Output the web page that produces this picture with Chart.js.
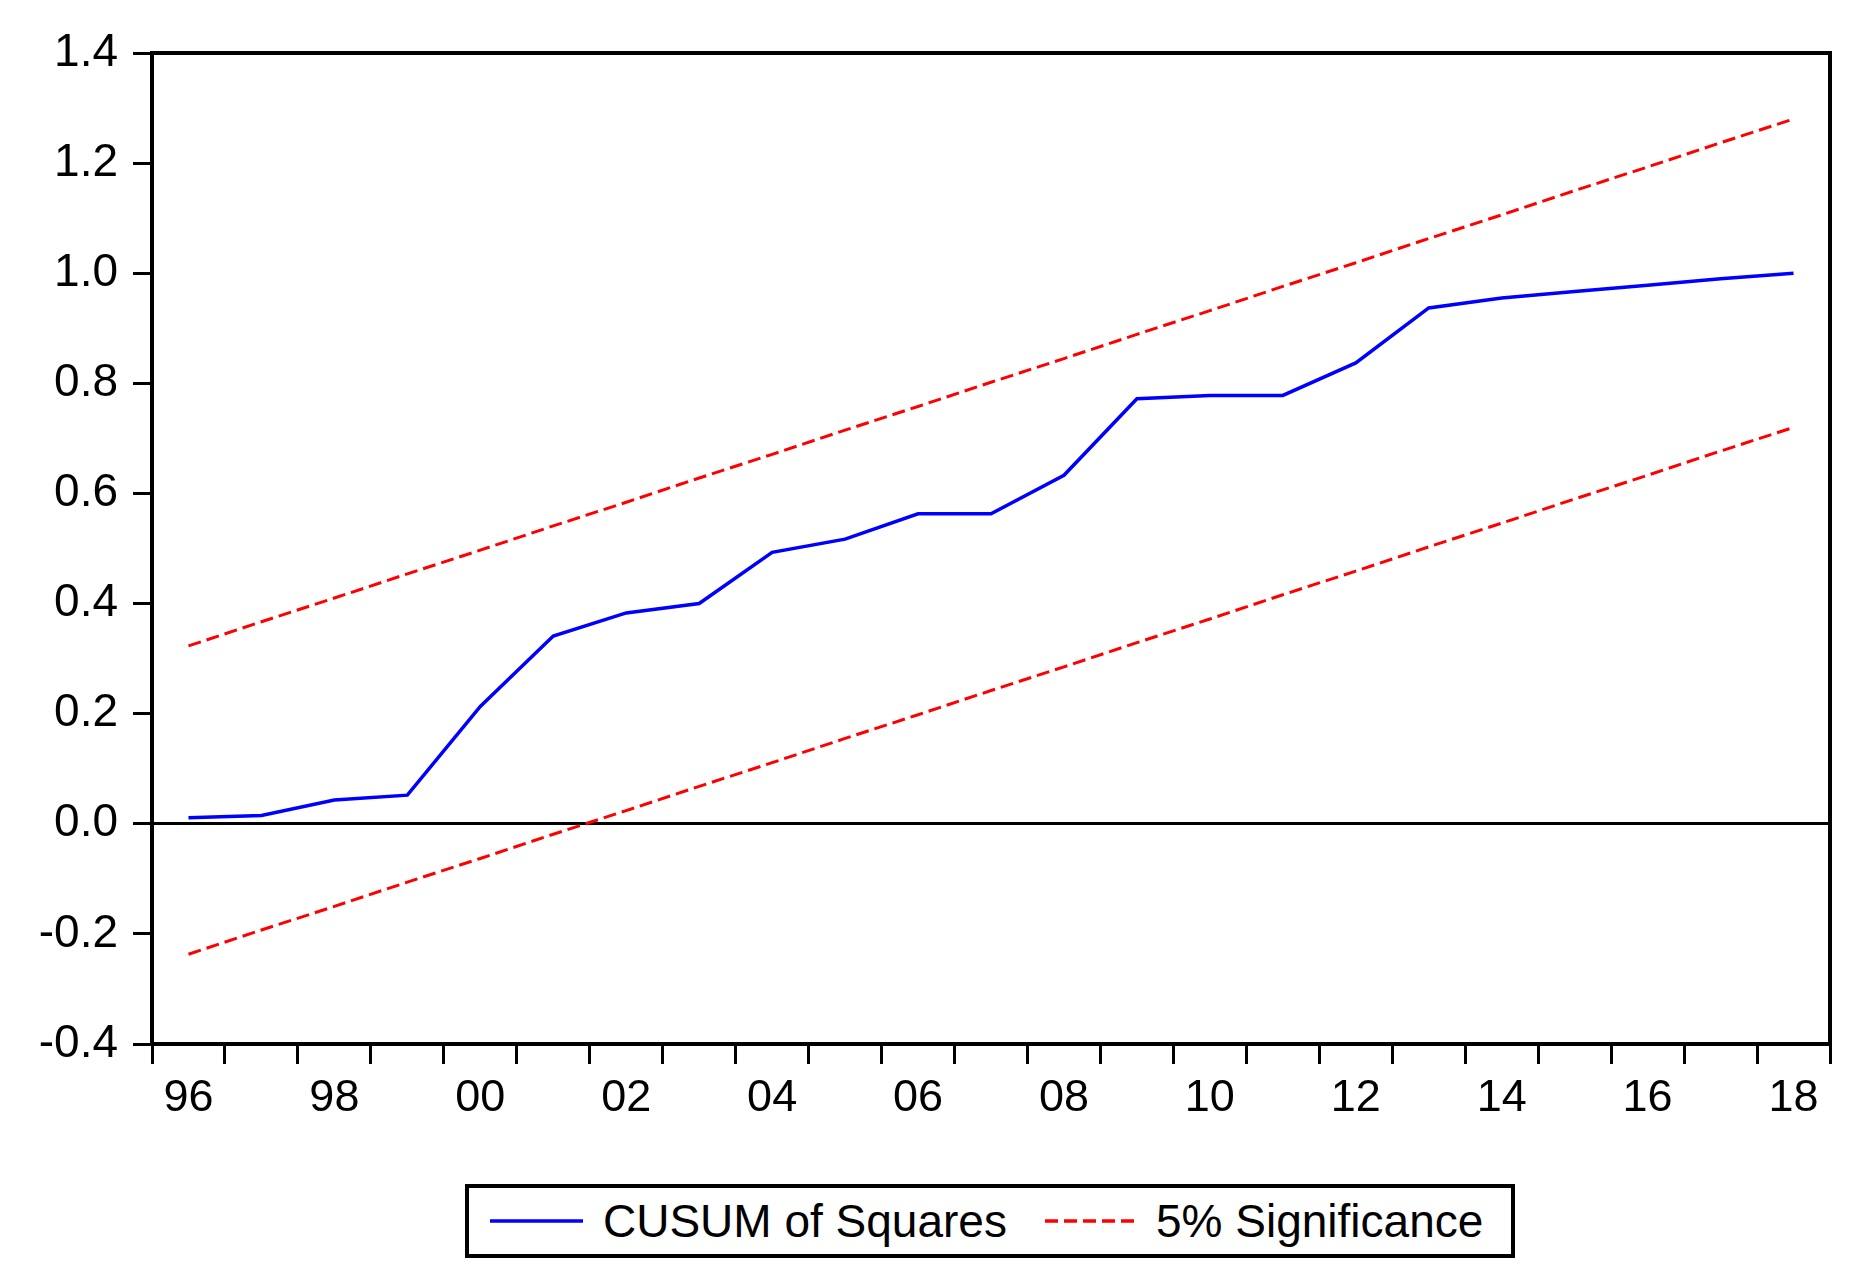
<!DOCTYPE html>
<html>
<head>
<meta charset="utf-8">
<script src="https://cdn.jsdelivr.net/npm/chart.js@4/dist/chart.umd.min.js"></script>
<style>
  html, body { margin: 0; padding: 0; background: #fff; overflow: hidden; }
  #wrap { position: relative; width: 1871px; height: 1286px; }
  #legend {
    position: absolute; left: 465px; top: 1184px; width: 1042px; height: 66px;
    border: 4px solid #000; background: #fff;
    font-family: "Liberation Sans", Arial, sans-serif; font-size: 46px; color: #000;
  }
  .lg-item { position: absolute; top: 0; height: 66px; display: flex; align-items: center; }
  .lg-item svg { margin-right: 20px; }
</style>
</head>
<body>
<div id="wrap">
  <canvas id="cusumChart"></canvas>
  <div id="legend">
    <div class="lg-item" style="left:21px">
      <svg width="93" height="10"><line x1="0" y1="5" x2="93" y2="5" stroke="#0000ff" stroke-width="3.5"/></svg>
      <span>CUSUM of Squares</span>
    </div>
    <div class="lg-item" style="left:576px">
      <svg width="91" height="10"><line x1="0" y1="5" x2="91" y2="5" stroke="#ff0000" stroke-width="3.5" stroke-dasharray="13,6"/></svg>
      <span>5% Significance</span>
    </div>
  </div>
</div>
<script>
// CUSUM of squares test, yearly 1996-2018
const years = [1996, 1997, 1998, 1999, 2000, 2001, 2002, 2003, 2004, 2005, 2006, 2007,
               2008, 2009, 2010, 2011, 2012, 2013, 2014, 2015, 2016, 2017, 2018];

const cusumSq = [0.011, 0.015, 0.043, 0.052, 0.213, 0.341, 0.383, 0.400, 0.493, 0.517, 0.563, 0.563,
                 0.633, 0.772, 0.778, 0.778, 0.837, 0.937, 0.955, 0.967, 0.978, 0.990, 1.000];

const upper5 = [0.323, 0.367, 0.410, 0.454, 0.497, 0.541, 0.584, 0.628, 0.671, 0.715, 0.758, 0.802,
                0.845, 0.889, 0.932, 0.976, 1.019, 1.063, 1.106, 1.150, 1.193, 1.237, 1.280];

const lower5 = [-0.237, -0.193, -0.150, -0.106, -0.063, -0.019, 0.024, 0.068, 0.111, 0.155, 0.198, 0.242,
                0.285, 0.329, 0.372, 0.416, 0.459, 0.503, 0.546, 0.590, 0.633, 0.677, 0.720];

const yMin = -0.4;
const yMax = 1.4;
const yStep = 0.2;

const FONT = "'Liberation Sans', Arial, sans-serif";

// box round the plot area
const framePlugin = {
  id: "frame",
  afterDraw(chart) {
    const { ctx, chartArea: a } = chart;
    ctx.save();
    ctx.strokeStyle = "#000";
    ctx.lineWidth = 4;
    ctx.strokeRect(a.left, a.top, a.right - a.left, a.bottom - a.top);
    ctx.restore();
  }
};

const canvas = document.getElementById("cusumChart");
canvas.width = 1871;
canvas.height = 1286;

new Chart(canvas, {
  type: "line",
  data: {
    labels: years.map(String),
    datasets: [
      {
        label: "CUSUM of Squares",
        data: cusumSq,
        borderColor: "#0000ff",
        borderWidth: 3.5,
        pointRadius: 0,
        tension: 0,
        fill: false
      },
      {
        label: "5% Significance",
        data: upper5,
        borderColor: "#ff0000",
        borderWidth: 3,
        borderDash: [13, 6],
        pointRadius: 0,
        tension: 0,
        fill: false
      },
      {
        label: "5% Significance (lower)",
        data: lower5,
        borderColor: "#ff0000",
        borderWidth: 3,
        borderDash: [13, 6],
        pointRadius: 0,
        tension: 0,
        fill: false
      }
    ]
  },
  options: {
    responsive: false,
    animation: false,
    devicePixelRatio: 1,
    layout: { padding: { left: 0, top: 53, right: 41, bottom: 162 } },
    plugins: {
      legend: { display: false },
      tooltip: { enabled: false }
    },
    scales: {
      x: {
        type: "category",
        offset: true,
        border: { display: true, color: "#000", width: 4 },
        grid: {
          offset: true,
          drawOnChartArea: false,
          color: "#000",
          tickColor: "#000",
          lineWidth: 3,
          tickLength: 20
        },
        ticks: {
          autoSkip: false,
          maxRotation: 0,
          padding: 8,
          color: "#000",
          font: { family: FONT, size: 45 },
          callback: (val, i) => (years[i] % 2 === 0 ? String(years[i]).slice(2) : "")
        },
        afterFit: scale => { scale.height = 80; }
      },
      y: {
        min: yMin,
        max: yMax,
        border: { display: true, color: "#000", width: 4 },
        grid: {
          color: ctx => (Math.abs(ctx.tick.value) < 1e-9 ? "#000" : "rgba(0,0,0,0)"),
          tickColor: "#000",
          lineWidth: 3,
          tickLength: 19
        },
        ticks: {
          stepSize: yStep,
          padding: 15,
          color: "#000",
          font: { family: FONT, size: 46 },
          callback: val => (Math.abs(val) < 1e-9 ? "0.0" : val.toFixed(1))
        },
        afterFit: scale => { scale.width = 152; }
      }
    }
  },
  plugins: [framePlugin]
});
</script>
</body>
</html>
